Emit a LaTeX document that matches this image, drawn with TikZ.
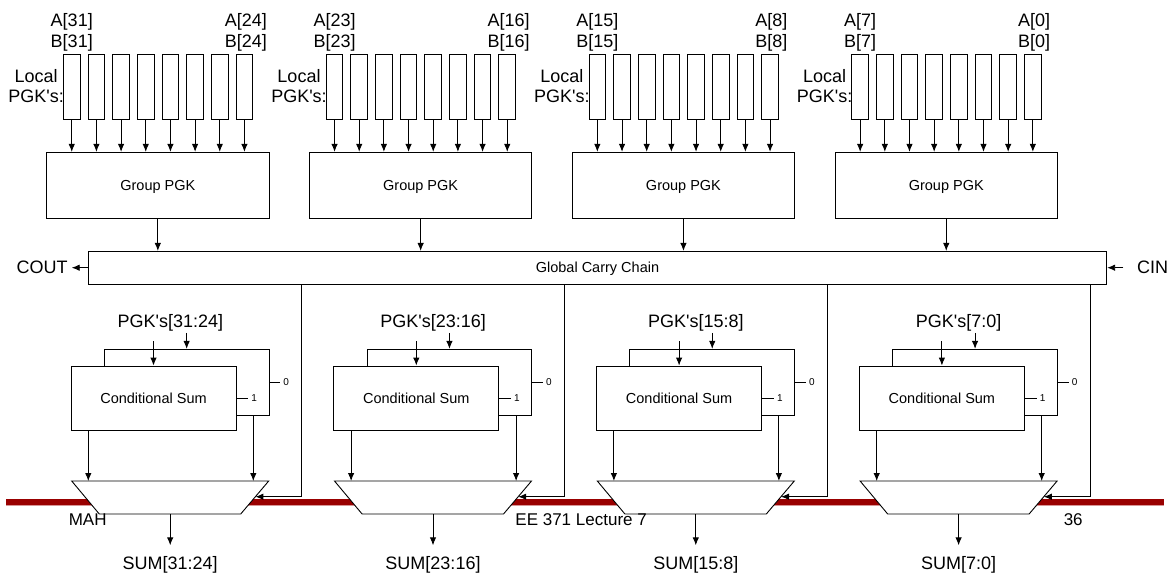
\documentclass[tikz,border=0pt]{standalone}
\usepackage{fontspec}
\setmainfont{Liberation Sans}[Ligatures=TeXOff]
\usetikzlibrary{arrows.meta}
\definecolor{barred}{RGB}{153,0,0}
\definecolor{barpink}{RGB}{215,150,150}
\newcommand\myfs[1]{\fontsize{#1}{#1}\selectfont}
\begin{document}
\begin{tikzpicture}[x=1pt,y=-1pt,
  line width=0.9pt,
  arr/.style={-{Latex[length=8pt,width=6.5pt]}},
  pgkbit/.style={draw, fill=white, minimum width=16.7pt, minimum height=65pt, inner sep=0pt},
  blk/.style={draw, fill=white, inner sep=0pt, text depth=0pt, font=\myfs{14.5}},
  lbl/.style={inner sep=0pt, font=\myfs{18}},
  tinylbl/.style={inner sep=2.5pt, font=\myfs{10}},
  foot/.style={anchor=base west, inner sep=0pt, font=\myfs{17}},
]
\useasboundingbox (0,0) rectangle (1172,574);
\fill[white] (0,0) rectangle (1172,574);
% slide underline
\fill[barred] (6,499) rectangle (1164,505);
\draw[barpink, line width=1pt] (6,505.5) -- (1164,505.5);
% global carry chain
\node[blk, minimum width=1018.4pt, minimum height=32.7pt] (chain) at (597.5,267.7) {Global Carry Chain};
\node[lbl, anchor=east] (cout) at (68,267.7) {COUT};
\draw[arr] (chain.west) -- ([xshift=3.7pt]cout.east);
\node[lbl, anchor=west] (cin) at (1136.7,267.7) {CIN};
\draw[arr] ([xshift=-13.4pt]cin.west) -- (chain.east);
\foreach \i/\hi/\lo in {0/31/24,1/23/16,2/15/8,3/7/0} {
\begin{scope}[xshift=\i*262.8pt]
  % upper part
  \node[blk, minimum width=222.3pt, minimum height=66pt] (g\i) at (157.85,185.3) {Group PGK};
  \foreach \j in {0,...,7} {
    \node[pgkbit] (b\i-\j) at ({71.75+\j*24.67},86.5) {};
    \draw[arr] (b\i-\j.south) -- (b\i-\j.south |- g\i.north);
  }
  \node[lbl, anchor=base] (ahi\i) at (71.75,26.7) {A[\hi]};
  \node[lbl, anchor=base] (bhi\i) at (71.75,47) {B[\hi]};
  \node[lbl, anchor=base] (alo\i) at (245.8,26.7) {A[\lo]};
  \node[lbl, anchor=base] (blo\i) at (245.8,47) {B[\lo]};
  \node[lbl, anchor=base] (loc\i) at (36.2,82.5) {Local};
  \node[lbl, anchor=base] (lpgk\i) at (36.2,102) {PGK's:};
  \draw[arr] (g\i.south) -- (g\i.south |- chain.north);
  % lower part
  \node[blk, minimum width=164.7pt, minimum height=66.4pt] (cb\i) at (186.65,382.5) {};
  \node[blk, minimum width=165pt, minimum height=64.7pt] (cf\i) at (153.5,398.35) {Conditional Sum};
  \node[lbl, anchor=base] (pl\i) at (170.3,327.5) {PGK's[\hi:\lo]};
  \draw[arr] ([yshift=24.5pt]cf\i.north) -- (cf\i.north);
  \draw[arr] ([yshift=16pt]cb\i.north) -- (cb\i.north);
  \draw (cb\i.east) -- ++(11,0) node[tinylbl, anchor=west] (z\i) {0};
  \draw (cf\i.east) -- ++(12,0) node[tinylbl, anchor=west] (o\i) {1};
  % mux
  \coordinate (m\i-tl) at (71.7,481);
  \coordinate (m\i-tr) at (268.7,481);
  \coordinate (m\i-br) at (240.7,514);
  \coordinate (m\i-bl) at (99.3,514);
  \draw[fill=white] (m\i-tl) -- (m\i-tr) -- (m\i-br) -- (m\i-bl) -- cycle;
  \coordinate (m\i-a) at (88.3,481);
  \coordinate (m\i-b) at (253.3,481);
  \coordinate (m\i-sel) at (255.4,496.7);
  \coordinate (m\i-out) at (170.2,514);
  \draw[arr] (cf\i.south -| m\i-a) -- (m\i-a);
  \draw[arr] (cb\i.south -| m\i-b) -- (m\i-b);
  \node[lbl, anchor=base] (sum\i) at (170.2,569.5) {SUM[\hi:\lo]};
  \draw[arr] (m\i-out) -- ([yshift=10.7pt]sum\i.north);
  \coordinate (s\i) at (301.7,290);
  \draw[arr] (chain.south -| s\i) |- (m\i-sel);
\end{scope}
}
% footer
\node[foot] (mah) at (68.3,525.5) {MAH};
\node[foot] (lec) at (515,525.5) {EE 371 Lecture 7};
\node[foot] (pg) at (1063.3,525.5) {36};
\end{tikzpicture}
\end{document}
